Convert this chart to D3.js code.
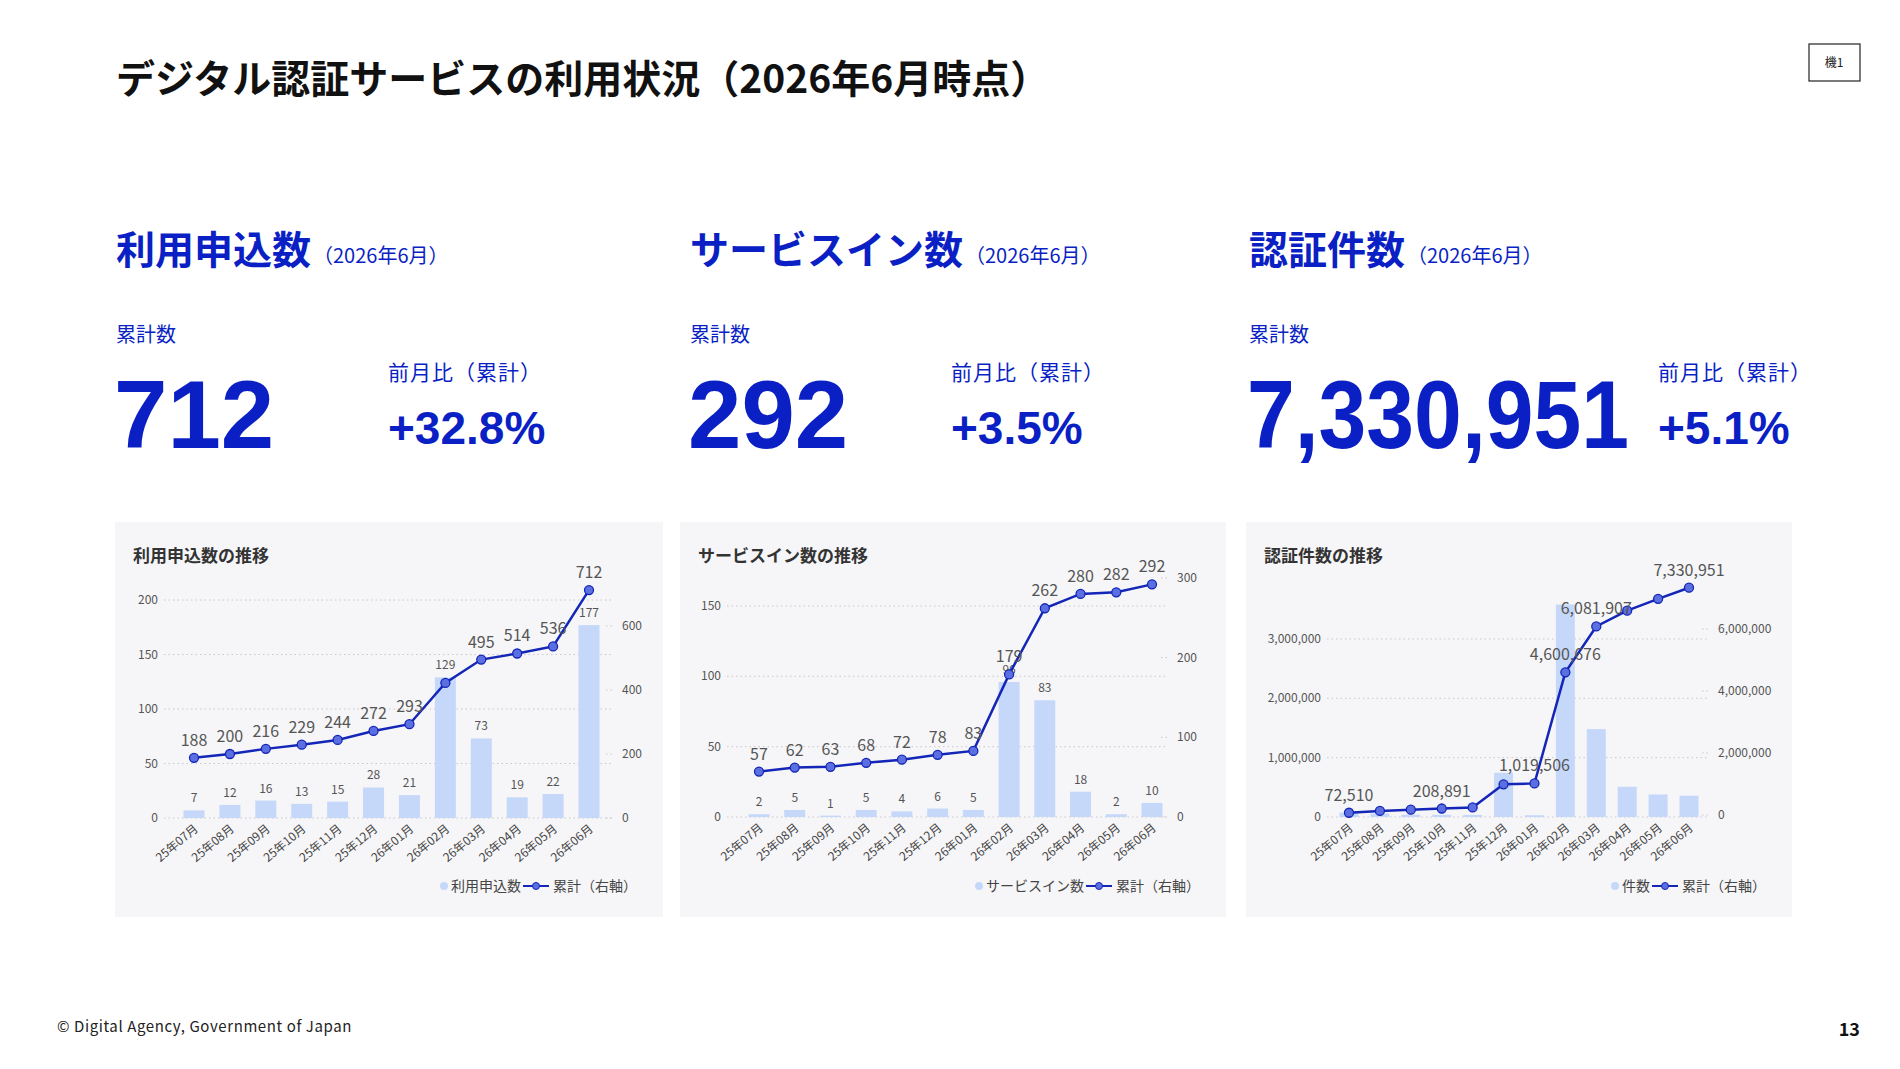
<!DOCTYPE html>
<html><head><meta charset="utf-8">
<script src="https://cdn.jsdelivr.net/npm/d3@7"></script>
<style>
body{margin:0;background:#fff;}
svg text{font-family:"Noto Sans CJK JP","Noto Sans",sans-serif;}
svg text.num{font-family:"Liberation Sans",Arial,sans-serif;}
</style></head>
<body><svg id="c" width="1900" height="1069"></svg>
<script>
const months = ['25年07月','25年08月','25年09月','25年10月','25年11月','25年12月','26年01月','26年02月','26年03月','26年04月','26年05月','26年06月'];

const appMonthly = [7,12,16,13,15,28,21,129,73,19,22,177];
const appCumulative = [188,200,216,229,244,272,293,422,495,514,536,712];
const appCumLabels = [true,true,true,true,true,true,true,false,true,true,true,true];

const svcMonthly = [2,5,1,5,4,6,5,96,83,18,2,10];
const svcCumulative = [57,62,63,68,72,78,83,179,262,280,282,292];

const authMonthly = [72510,60000,40000,36381,35000,745615,30000,3581170,1481231,510000,380000,359044];
const authCumulative = [72510,132510,172510,208891,243891,989506,1019506,4600676,6081907,6591907,6971907,7330951];
const authCumLabels = [true,false,false,true,false,false,true,true,true,false,false,true];

const headline = [
  {title:'利用申込数', total:'712', ratio:'+32.8%'},
  {title:'サービスイン数', total:'292', ratio:'+3.5%'},
  {title:'認証件数', total:'7,330,951', ratio:'+5.1%'}
];

const svg = d3.select('#c');
const BLUE = '#0a1fc4', LINE = '#1326b8', BAR = '#c6d8fa', MARK = '#5b6fe0';

svg.append('text').attr('x',116).attr('y',93).attr('font-size',39).attr('font-weight',700).attr('fill','#111')
  .text('デジタル認証サービスの利用状況（2026年6月時点）');
svg.append('rect').attr('x',1809).attr('y',44).attr('width',51).attr('height',37).attr('fill','none').attr('stroke','#222').attr('stroke-width',1.2);
svg.append('text').attr('x',1834).attr('y',67).attr('text-anchor','middle').attr('font-size',12).attr('fill','#222').text('機1');
svg.append('text').attr('x',57).attr('y',1032).attr('font-size',15).attr('fill','#222').attr('letter-spacing',0.6).text('© Digital Agency, Government of Japan');
svg.append('text').attr('x',1860).attr('y',1036).attr('text-anchor','end').attr('font-size',18).attr('font-weight',700).attr('fill','#111').text('13');

const heads = [{x:116,rx:388,len:null},{x:690,rx:951,len:null},{x:1249,rx:1658,len:382}];
headline.forEach((h,i)=>{
  const g = svg.append('g');
  const t = g.append('text').attr('x',heads[i].x).attr('y',264).attr('font-size',39).attr('font-weight',700).attr('fill',BLUE).text(h.title);
  const w = t.node().getComputedTextLength();
  g.append('text').attr('x',heads[i].x+w+2).attr('y',263).attr('font-size',20).attr('fill',BLUE).text('（2026年6月）');
  g.append('text').attr('x',heads[i].x).attr('y',342).attr('font-size',20).attr('fill',BLUE).text('累計数');
  const big = g.append('text').attr('class','num').attr('x',heads[i].x-2).attr('y',448).attr('font-size',96).attr('font-weight',700)
    .attr('fill',BLUE).text(h.total);
  if(heads[i].len) big.attr('textLength',heads[i].len).attr('lengthAdjust','spacingAndGlyphs');
  g.append('text').attr('x',heads[i].rx).attr('y',380).attr('font-size',21).attr('fill',BLUE).attr('letter-spacing',1).text('前月比（累計）');
  g.append('text').attr('class','num').attr('x',heads[i].rx).attr('y',444).attr('font-size',46).attr('font-weight',700)
    .attr('fill',BLUE).text(h.ratio);
});

function panel(cfg){
  const g = svg.append('g');
  g.append('rect').attr('x',cfg.px).attr('y',522).attr('width',cfg.pw).attr('height',395).attr('fill','#f6f6f8');
  g.append('text').attr('x',cfg.px+18).attr('y',562).attr('font-size',17).attr('font-weight',700).attr('fill','#333').text(cfg.title);
  const x = d3.scalePoint().domain(months).range([cfg.x0,cfg.x1]);
  const bw = cfg.bw;
  const yL = d3.scaleLinear().domain([0,cfg.lMax]).range([cfg.y0,cfg.top]);
  const yR = d3.scaleLinear().domain([0,cfg.rMax]).range([cfg.y0r||cfg.y0,cfg.top]);
  const fmt = d3.format(',');
  cfg.lTicks.forEach(v=>{
    g.append('line').attr('x1',cfg.gx0).attr('x2',cfg.gx1).attr('y1',yL(v)).attr('y2',yL(v))
      .attr('stroke','#c8c8cc').attr('stroke-dasharray','1.5,3');
    g.append('text').attr('x',cfg.gx0-6).attr('y',yL(v)+4).attr('text-anchor','end').attr('font-size',12).attr('fill','#555').text(fmt(v));
  });
  cfg.rTicks.forEach(v=>{
    g.append('line').attr('x1',cfg.gx1-6).attr('x2',cfg.gx1+2).attr('y1',yR(v)).attr('y2',yR(v))
      .attr('stroke','#c8c8cc').attr('stroke-dasharray','1.5,3');
    g.append('text').attr('x',cfg.gx1+10).attr('y',yR(v)+4).attr('font-size',12).attr('fill','#555').text(fmt(v));
  });
  g.selectAll('rect.b').data(cfg.bars).join('rect').attr('class','b')
    .attr('x',(d,i)=>x(months[i])-bw/2).attr('y',d=>yL(d)).attr('width',bw).attr('height',d=>yL(0)-yL(d)).attr('fill',BAR);
  if(cfg.barLabels){
    g.selectAll('text.bl').data(cfg.bars).join('text').attr('class','bl')
      .attr('x',(d,i)=>x(months[i])).attr('y',d=>yL(d)-8).attr('text-anchor','middle').attr('font-size',12).attr('fill','#555').text(d=>fmt(d));
  }
  const line = d3.line().x((d,i)=>x(months[i])).y(d=>yR(d));
  g.append('path').datum(cfg.cum).attr('d',line).attr('fill','none').attr('stroke',LINE).attr('stroke-width',2.5);
  g.selectAll('circle.m').data(cfg.cum).join('circle').attr('class','m')
    .attr('cx',(d,i)=>x(months[i])).attr('cy',d=>yR(d)).attr('r',4.5).attr('fill',MARK).attr('stroke',LINE).attr('stroke-width',1.3);
  g.selectAll('text.ll').data(cfg.cum).join('text').attr('class','ll')
    .attr('x',(d,i)=>x(months[i])).attr('y',d=>yR(d)-12).attr('text-anchor','middle').attr('font-size',16).attr('fill','#555')
    .attr('display',(d,i)=>cfg.cumShow[i]?null:'none').text(d=>fmt(d));
  months.forEach(m=>{
    g.append('text').attr('transform',`translate(${x(m)+5},${cfg.y0+12}) rotate(-40)`).attr('text-anchor','end')
      .attr('font-size',12).attr('fill','#444').text(m);
  });
  const lg = g.append('g');
  const t2 = lg.append('text').attr('font-size',14).attr('fill','#444').text('累計（右軸）');
  const w2 = t2.node().getComputedTextLength();
  const end = cfg.px+cfg.pw-26, ly = 891;
  t2.attr('x',end-w2).attr('y',ly);
  lg.append('line').attr('x1',end-w2-30).attr('x2',end-w2-4).attr('y1',ly-5).attr('y2',ly-5).attr('stroke',LINE).attr('stroke-width',2);
  lg.append('circle').attr('cx',end-w2-17).attr('cy',ly-5).attr('r',3.5).attr('fill',MARK).attr('stroke',LINE);
  const t1 = lg.append('text').attr('y',ly).attr('font-size',14).attr('fill','#444').text(cfg.legend);
  const w1 = t1.node().getComputedTextLength();
  t1.attr('x',end-w2-32-w1);
  lg.append('circle').attr('cx',end-w2-32-w1-7).attr('cy',ly-5).attr('r',4).attr('fill',BAR);
}

panel({px:115,pw:548,title:'利用申込数の推移',x0:194,x1:589,bw:21,gx0:164,gx1:612,y0:818,top:585,
  lMax:213.8,rMax:728,lTicks:[0,50,100,150,200],rTicks:[0,200,400,600],bars:appMonthly,barLabels:true,
  cum:appCumulative,cumShow:appCumLabels,legend:'利用申込数'});
panel({px:680,pw:546,title:'サービスイン数の推移',x0:759,x1:1152,bw:21,gx0:727,gx1:1167,y0:817,top:578,
  lMax:169.9,rMax:300,lTicks:[0,50,100,150],rTicks:[0,100,200,300],bars:svcMonthly,barLabels:true,
  cum:svcCumulative,cumShow:svcCumulative.map(()=>true),legend:'サービスイン数'});
panel({px:1246,pw:546,title:'認証件数の推移',x0:1349,x1:1689,bw:19,gx0:1327,gx1:1708,y0:817,y0r:815,top:580,
  lMax:3994000,rMax:7580000,lTicks:[0,1000000,2000000,3000000],rTicks:[0,2000000,4000000,6000000],bars:authMonthly,barLabels:false,
  cum:authCumulative,cumShow:authCumLabels,legend:'件数'});
</script></body></html>
